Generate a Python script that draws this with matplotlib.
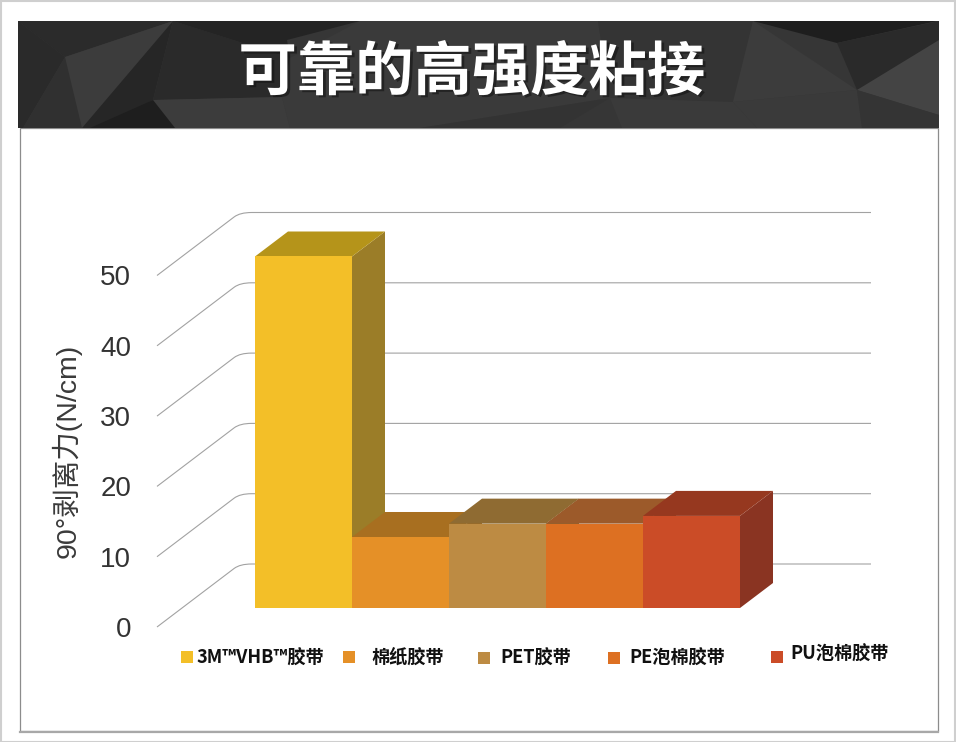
import numpy as np
import matplotlib
matplotlib.use('Agg')
import matplotlib.pyplot as plt
import matplotlib.patheffects as pe
from matplotlib.patches import Polygon, PathPatch, Rectangle
from matplotlib.path import Path

title = '可靠的高强度粘接'
ylabel = '90°剥离力(N/cm)'
categories = ['3M™VHB™胶带', '棉纸胶带', 'PET胶带', 'PE泡棉胶带', 'PU泡棉胶带']
values = [50, 10.1, 12, 12, 13.1]
yticks = [0, 10, 20, 30, 40, 50]

front_colors = ['#f3bf28', '#e59027', '#bd8b43', '#dd7022', '#cb4c27']
top_colors = ['#b5941a', '#a86f20', '#8f6b32', '#9c5a2a', '#96381f']
side_colors = ['#9b7d28', '#a06a20', '#8a6630', '#94542a', '#8a3422']

# legend placement in pixels
legend_square_x = [181, 343, 478, 608, 771]
legend_text_x = [196, 371, 500, 629, 790]
legend_y = [657, 657, 658, 658, 657]
legend_text_y = [658, 657, 658, 658, 654]

# header facets (pixels): outline, dark end, light end, gradient direction
facets = [
    ([(18, 21), (173, 21), (65, 57)], '#2b2b2b', '#3c3c3c', 0),
    ([(18, 21), (65, 57), (23, 128), (18, 128)], '#2a2a2a', '#464646', 1),
    ([(65, 57), (173, 21), (82, 128), (23, 128)], '#303030', '#4a4a4a', 0),
    ([(65, 57), (173, 21), (120, 128), (82, 128)], '#3c3c3c', '#4c4c4c', 1),
    ([(173, 21), (153, 100), (100, 128), (82, 128)], '#262626', '#3a3a3a', 1),
    ([(173, 21), (290, 58), (282, 97), (153, 100)], '#2a2a2a', '#404040', 0),
    ([(153, 100), (282, 97), (290, 128), (175, 128)], '#3c3c3c', '#303030', 0),
    ([(153, 100), (175, 128), (90, 128)], '#1e1e1e', '#2c2c2c', 0),
    ([(173, 21), (360, 21), (287, 40), (290, 58)], '#242424', '#323232', 0),
    ([(360, 21), (470, 21), (420, 128), (290, 128), (282, 97), (290, 58)], '#3a3a3a', '#4c4c4c', 0),
    ([(360, 21), (598, 21), (610, 98), (420, 128)], '#3a3a3a', '#505050', 1),
    ([(420, 128), (610, 98), (560, 128)], '#333333', '#444444', 0),
    ([(598, 21), (753, 21), (733, 102), (610, 98)], '#343434', '#444444', 0),
    ([(610, 98), (733, 102), (757, 128), (622, 128)], '#3a3a3a', '#2a2a2a', 0),
    ([(753, 21), (857, 90), (733, 102)], '#3c3c3c', '#252525', 0),
    ([(753, 21), (937, 21), (837, 43)], '#1e1e1e', '#2c2c2c', 0),
    ([(837, 43), (939, 21), (939, 60), (857, 90)], '#2a2a2a', '#343434', 1),
    ([(857, 90), (939, 40), (939, 115)], '#444444', '#3c3c3c', 0),
    ([(733, 102), (857, 90), (862, 128), (757, 128)], '#3a3a3a', '#343434', 0),
    ([(857, 90), (939, 115), (939, 128), (862, 128)], '#343434', '#404040', 0),
]

fig = plt.figure(figsize=(9.56, 7.42), dpi=100, facecolor='white')

# pixel layer for frame and header
bg = fig.add_axes([0, 0, 1, 1])
bg.set_xlim(0, 956)
bg.set_ylim(742, 0)
bg.axis('off')

bg.add_patch(Rectangle((0.5, 0.5), 955, 741, fc='white', ec='#cfcfcf', lw=1.5))
bg.add_patch(Rectangle((20, 128), 918, 603, fc='white', ec='#8c8c8c', lw=0.9))
bg.plot([20, 938], [731.5, 731.5], color='#a8a8a8', lw=1.6)
bg.add_patch(Rectangle((18, 21), 921, 107, fc='#363636', ec='none'))

for pts, c0, c1, direction in facets:
    poly = Polygon(pts, closed=True, fc=c0, ec='none')
    bg.add_patch(poly)
    xs = [p[0] for p in pts]
    ys = [p[1] for p in pts]
    c0_rgb = np.array(matplotlib.colors.to_rgb(c0))
    c1_rgb = np.array(matplotlib.colors.to_rgb(c1))
    t = np.linspace(0, 1, 32)
    grad = c0_rgb[None, :] * (1 - t[:, None]) + c1_rgb[None, :] * t[:, None]
    grad = grad[:, None, :] if direction else grad[None, :, :]
    im = bg.imshow(grad, extent=(min(xs), max(xs), max(ys), min(ys)), aspect='auto',
                   interpolation='bilinear')
    im.set_clip_path(poly)
bg.set_xlim(0, 956)
bg.set_ylim(742, 0)

bg.text(472, 73, title, color='white', fontsize=42, fontweight='bold',
        family=['Noto Sans CJK SC', 'DejaVu Sans'], ha='center', va='center',
        path_effects=[pe.withSimplePatchShadow(offset=(2, -1.5), shadow_rgbFace='#111111', alpha=0.55)])

# chart layer: x in bar widths, y in value units
ax = fig.add_axes([0, 0, 1, 1], facecolor='none')
bar_px = 97.0
val_px = 7.03
ax.set_xlim(-255 / bar_px, (956 - 255) / bar_px)
ax.set_ylim((608 - 742) / val_px, 608 / val_px)
ax.axis('off')

# depth of the bars and of the chart floor, in data units
depth_x = 33 / bar_px
depth_y = 25 / val_px
floor_front = (-98 / bar_px, -19 / val_px)
floor_back = (-15 / bar_px, 44 / val_px)
grid_end = (871 - 255) / bar_px

for v in yticks:
    x0 = floor_front[0]
    y0 = v + floor_front[1]
    x1 = floor_back[0]
    y1 = v + floor_back[1]
    xc = x0 + 0.93 * (x1 - x0)
    yc = y0 + 0.93 * (y1 - y0)
    path = Path([(x0, y0), (xc, yc), (x1, y1), (x1 + 0.12, y1), (grid_end, y1)],
                [Path.MOVETO, Path.LINETO, Path.CURVE3, Path.CURVE3, Path.LINETO])
    ax.add_patch(PathPatch(path, fc='none', ec='#a2a2a2', lw=0.8, zorder=1))
    ax.text(-124 / bar_px, y0, str(v), color='#333333', fontsize=20, family='Liberation Sans',
            ha='right', va='center_baseline', zorder=5)

for i, v in enumerate(values):
    z = 2 + i
    ax.add_patch(Polygon([(i + 1, 0), (i + 1 + depth_x, depth_y), (i + 1 + depth_x, v + depth_y), (i + 1, v)],
                         fc=side_colors[i], ec='none', zorder=z))
    ax.add_patch(Polygon([(i, v), (i + depth_x, v + depth_y), (i + 1 + depth_x, v + depth_y), (i + 1, v)],
                         fc=top_colors[i], ec='none', zorder=z))
    ax.bar(i, v, width=1, align='edge', color=front_colors[i], zorder=z)

ax.set_xlim(-255 / bar_px, (956 - 255) / bar_px)
ax.set_ylim((608 - 742) / val_px, 608 / val_px)

ax.text((67 - 255) / bar_px, (608 - 451) / val_px, ylabel, rotation=90, color='#3a3a3a', fontsize=20.5,
        family=['Liberation Sans', 'Noto Sans CJK SC'], ha='center', va='center')

for i, label in enumerate(categories):
    bg.add_patch(Rectangle((legend_square_x[i], legend_y[i] - 6), 12, 12, fc=front_colors[i], ec='none'))
    bg.text(legend_text_x[i], legend_text_y[i], label, color='#111111', fontsize=13.1, fontweight='bold',
            family=['Noto Sans CJK SC', 'DejaVu Sans'], ha='left', va='center')

fig.savefig('out.png', dpi=100)
